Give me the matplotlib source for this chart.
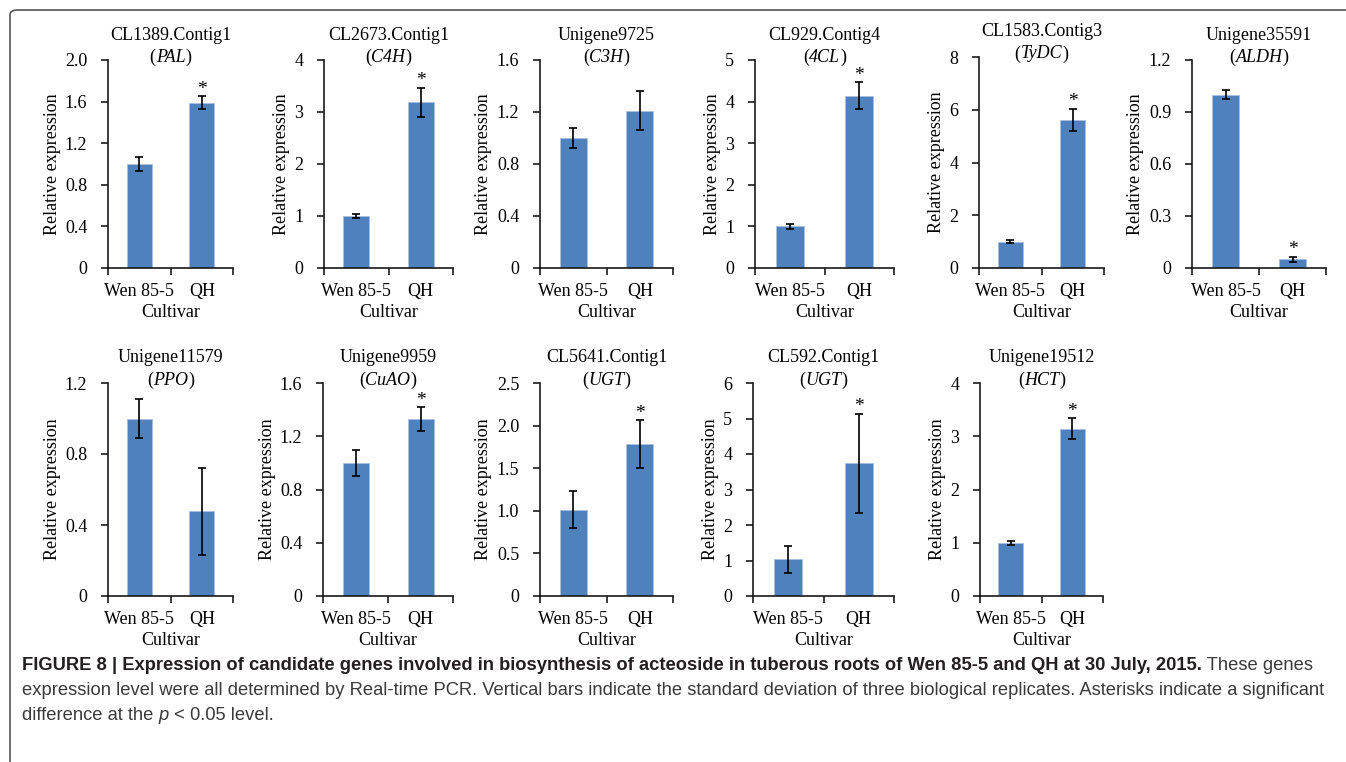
import matplotlib
matplotlib.use("Agg")
import matplotlib.pyplot as plt
from matplotlib import font_manager
from matplotlib.patches import FancyBboxPatch
import numpy as np

# ---- data ----
cultivars = ["Wen 85-5", "QH"]

genes = ["CL1389.Contig1", "CL2673.Contig1", "Unigene9725", "CL929.Contig4",
         "CL1583.Contig3", "Unigene35591", "Unigene11579", "Unigene9959",
         "CL5641.Contig1", "CL592.Contig1", "Unigene19512"]
gene_short = ["PAL", "C4H", "C3H", "4CL", "TyDC", "ALDH", "PPO", "CuAO",
              "UGT", "UGT", "HCT"]

wen_mean = [1.00, 1.00, 1.00, 1.00, 1.00, 1.00, 1.00, 1.00, 1.01, 1.04, 1.00]
wen_sd = [0.07, 0.03, 0.075, 0.06, 0.07, 0.027, 0.112, 0.10, 0.217, 0.38, 0.04]
qh_mean = [1.59, 3.19, 1.21, 4.14, 5.61, 0.05, 0.477, 1.33, 1.78, 3.74, 3.14]
qh_sd = [0.06, 0.28, 0.15, 0.32, 0.42, 0.013, 0.244, 0.088, 0.28, 1.40, 0.20]
signif = [True, True, False, True, True, True, False, True, True, True, True]

y_ticks = [
    ["0", "0.4", "0.8", "1.2", "1.6", "2.0"],
    ["0", "1", "2", "3", "4"],
    ["0", "0.4", "0.8", "1.2", "1.6"],
    ["0", "1", "2", "3", "4", "5"],
    ["0", "2", "4", "6", "8"],
    ["0", "0.3", "0.6", "0.9", "1.2"],
    ["0", "0.4", "0.8", "1.2"],
    ["0", "0.4", "0.8", "1.2", "1.6"],
    ["0", "0.5", "1.0", "1.5", "2.0", "2.5"],
    ["0", "1", "2", "3", "4", "5", "6"],
    ["0", "1", "2", "3", "4"],
]

# ---- layout in pixels (left, top, width, bottom) ----
W, H = 1346, 762
panels = [
    (108, 60, 125, 268), (324, 60, 129, 268), (540, 60, 133, 268),
    (755, 60, 139, 268), (979, 57, 125, 268), (1192, 60, 134, 268),
    (108, 383, 125, 596), (323, 383, 130, 596), (540, 383, 133, 596),
    (753, 383, 141, 596), (980, 383, 123, 596),
]

serif = "Liberation Serif"
avail = {f.name for f in font_manager.fontManager.ttflist}
cap_font = "Liberation Sans Narrow" if "Liberation Sans Narrow" in avail else "Liberation Sans"

plt.rcParams["font.family"] = serif
plt.rcParams["font.size"] = 13
bar_color = "#4F81BD"
axis_color = "#1a1a1a"

fig = plt.figure(figsize=(W / 100, H / 100), dpi=100)
renderer = fig.canvas.get_renderer()


def px(x, y):
    return x / W, 1 - y / H


def draw_runs(x, y, runs, ha="left", va="baseline", **kw):
    # draw consecutive text pieces with different styles on one line
    texts = []
    for s, style in runs:
        t = fig.text(0, 0, s, va=va, **style, **kw)
        texts.append(t)
    widths = [t.get_window_extent(renderer).width for t in texts]
    total = sum(widths)
    x0 = x - total / 2 if ha == "center" else x
    for t, w in zip(texts, widths):
        t.set_position(px(x0, y))
        x0 += w
    return total


for i, (l, t, w, b) in enumerate(panels):
    ax = fig.add_axes([l / W, 1 - b / H, w / W, (b - t) / H])
    x = np.arange(2)
    ax.bar(x, [wen_mean[i], qh_mean[i]], width=0.4, color=bar_color,
           edgecolor="#a9c0de", linewidth=0.6, zorder=2)
    ax.errorbar(x, [wen_mean[i], qh_mean[i]], yerr=[wen_sd[i], qh_sd[i]],
                fmt="none", ecolor="black", elinewidth=1.2, capsize=3,
                capthick=1.2, zorder=3)
    if signif[i]:
        ax.annotate("*", (1, qh_mean[i] + qh_sd[i]), xytext=(0, -1),
                    textcoords="offset points", ha="center", va="bottom",
                    fontsize=14)
    ticks = [float(v) for v in y_ticks[i]]
    ax.set_ylim(0, ticks[-1])
    ax.set_yticks(ticks)
    ax.set_yticklabels(y_ticks[i])
    ax.set_xlim(-0.5, 1.5)
    ax.set_xticks([-0.5, 0.5, 1.5])
    ax.set_xticklabels([])
    ax.set_xticks(x, minor=True)
    ax.set_xticklabels(cultivars, minor=True)
    ax.tick_params(axis="x", which="major", direction="out", length=5,
                   width=1.2, color=axis_color)
    ax.tick_params(axis="x", which="minor", length=0, pad=11, labelsize=13)
    ax.tick_params(axis="y", direction="out", length=5, width=1.2,
                   color=axis_color, pad=10, labelsize=13)
    for s in ["top", "right"]:
        ax.spines[s].set_visible(False)
    for s in ["left", "bottom"]:
        ax.spines[s].set_linewidth(1.2)
        ax.spines[s].set_color(axis_color)
    ax.set_xlabel("Cultivar", fontsize=13, labelpad=3)
    ax.set_ylabel("Relative expression", fontsize=13, labelpad=3)

    cx = l + w / 2
    fig.text(*px(cx, t - 25), genes[i], ha="center", va="center", fontsize=13)
    draw_runs(cx, t - 3, [("(", {}), (gene_short[i], {"style": "italic"}),
                          (")", {})], ha="center", va="center", fontsize=13)

# ---- caption ----
cap_size = 13.2
bold = {"family": cap_font, "weight": "bold", "color": "#231f20"}
norm = {"family": cap_font, "color": "#3a3a3a"}
ital = {"family": cap_font, "style": "italic", "color": "#3a3a3a"}
line1_b = ("FIGURE 8 | Expression of candidate genes involved in biosynthesis of "
           "acteoside in tuberous roots of Wen 85-5 and QH at 30 July, 2015.")
draw_runs(22, 670, [(line1_b, bold), (" These genes", norm)], fontsize=cap_size)
draw_runs(22, 695, [("expression level were all determined by Real-time PCR. "
                     "Vertical bars indicate the standard deviation of three "
                     "biological replicates. Asterisks indicate a significant",
                     norm)], fontsize=cap_size)
draw_runs(22, 720, [("difference at the ", norm), ("p", ital),
                    (" < 0.05 level.", norm)], fontsize=cap_size)

# outer frame (runs off the right and bottom edges)
frame = FancyBboxPatch((10 / W, -0.1), 1.2, 1 - 10 / H + 0.1,
                       boxstyle="round,pad=0,rounding_size=0.006",
                       transform=fig.transFigure, fill=False,
                       edgecolor="#555555", linewidth=1.2)
fig.patches.append(frame)

fig.savefig("out.png", dpi=100)
